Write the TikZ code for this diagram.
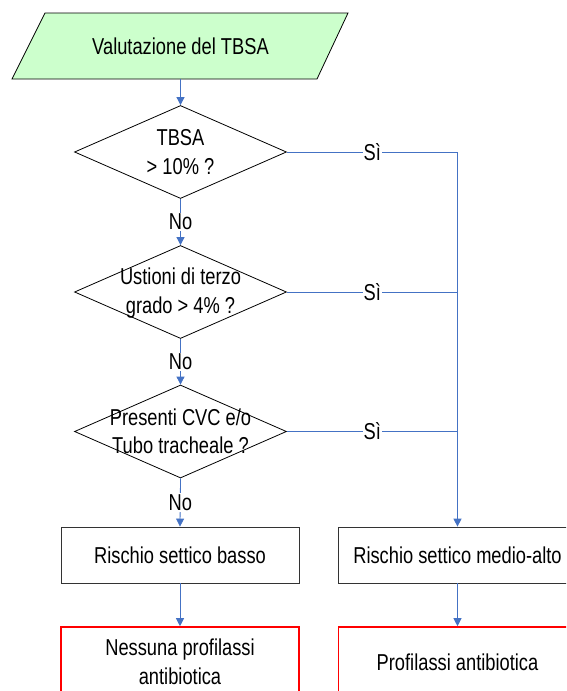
\documentclass[tikz,border=0pt]{standalone}
\usepackage{fontspec}
\setmainfont[FakeStretch=0.795]{Liberation Sans}
\usetikzlibrary{shapes.geometric,arrows.meta}
\definecolor{lnblue}{RGB}{68,114,196}
\definecolor{pgreen}{RGB}{204,255,204}
\begin{document}
\begin{tikzpicture}[x=1pt,y=-1pt,
 txt/.style={font=\fontsize{23}{28.5}\selectfont, align=center, inner sep=0pt},
 dec/.style={diamond, draw=black, line width=0.8pt, minimum width=212pt, minimum height=93pt, inner sep=0pt},
 boxn/.style={rectangle, draw=black!80, line width=0.8pt, minimum width=238pt, minimum height=56pt, inner sep=0pt, txt},
 redbox/.style={rectangle, draw=red, line width=1.6pt, minimum width=238pt, minimum height=70pt, inner sep=0pt, txt},
 conn/.style={draw=lnblue, line width=0.8pt},
 arr/.style={conn, -{Triangle[width=8pt,length=8pt]}},
 lbl/.style={txt, fill=white, inner sep=1pt}]
\useasboundingbox (0,0) rectangle (566,691);
\clip (0,0) rectangle (566,691);
% start parallelogram
\draw[fill=pgreen, line width=0.8pt] (45,13) -- (348,13) -- (317,79) -- (12,79) -- cycle;
\node[txt, minimum height=66pt] (start) at (180.5,46) {Valutazione del TBSA};
% decisions
\node[dec] (d1) at (180.5,152) {};
\node[txt] (t1) at (d1.center) {TBSA\\> 10\% ?};
\node[dec] (d2) at (180.5,292) {};
\node[txt] (t2) at (180.5,293) {Ustioni di terzo\\grado > 4\% ?};
\node[dec] (d3) at (180.5,431.5) {};
\node[txt] (t3) at (180.5,431.5) {Presenti CVC e/o\\Tubo tracheale ?};
% boxes
\node[boxn] (b1) at (180,555) {Rischio settico basso};
\node[boxn] (b2) at (457.5,555) {Rischio settico medio-alto};
\node[redbox] (r1) at (180,662) {Nessuna profilassi\\antibiotica};
\node[redbox] (r2) at (457.5,662) {Profilassi antibiotica};
% connectors
\draw[arr] (start.south) -- (d1.north);
\draw[arr] (d1.south) -- node[lbl]{No} (d2.north);
\draw[arr] (d2.south) -- node[lbl]{No} (d3.north);
\draw[arr] (d3.south) -- node[lbl]{No} (b1.north);
\coordinate (j1) at (b2.north |- d1.east);
\coordinate (j2) at (b2.north |- d2.east);
\coordinate (j3) at (b2.north |- d3.east);
\draw[conn] (d1.east) -- node[lbl]{Sì} (j1);
\draw[conn] (d2.east) -- node[lbl]{Sì} (j2);
\draw[conn] (d3.east) -- node[lbl]{Sì} (j3);
\draw[conn] (j1) -- (j3);
\draw[arr, line width=1.4pt] (j3) -- (b2.north);
\draw[arr] (b1.south) -- (r1.north);
\draw[arr] (b2.south) -- (r2.north);
\end{tikzpicture}
\end{document}
